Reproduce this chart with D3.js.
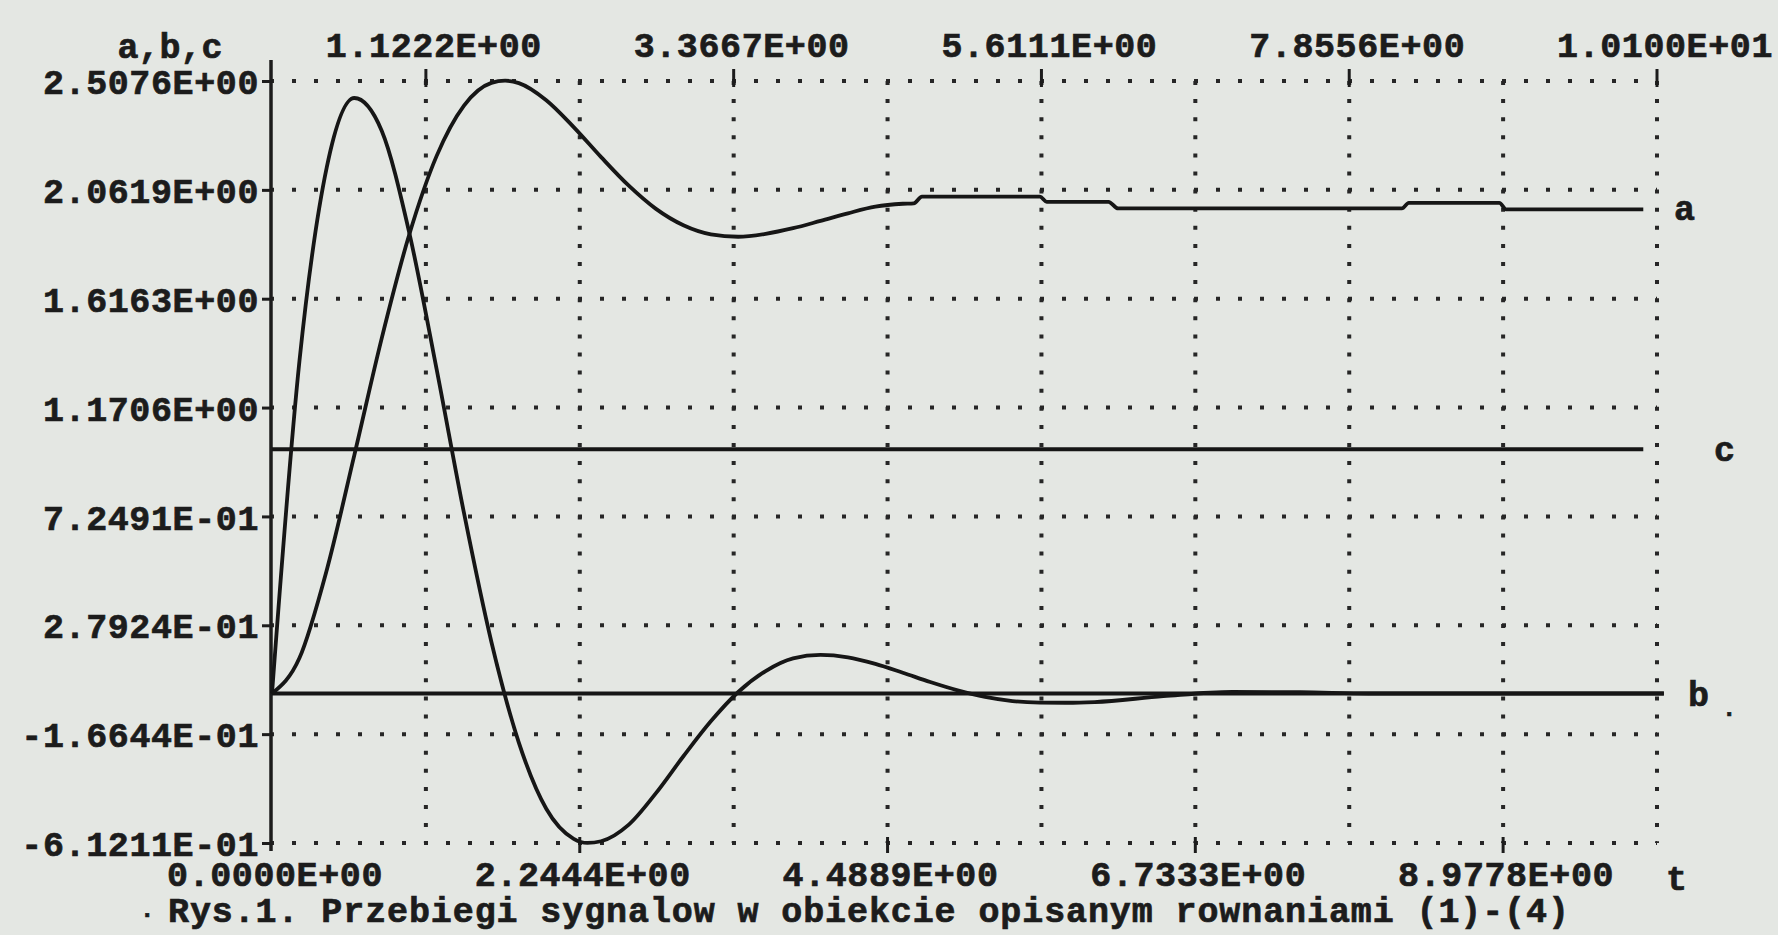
<!DOCTYPE html>
<html>
<head>
<meta charset="utf-8">
<script src="https://cdn.jsdelivr.net/npm/d3@7"></script>
<style>
  html, body { margin: 0; padding: 0; background: #e4e7e3; overflow: hidden; }
  svg { display: block; }
  text { font-family: "Liberation Mono", "DejaVu Sans Mono", monospace; font-weight: bold; fill: #1c1c1c; stroke: #1c1c1c; stroke-width: 0.7px; }
</style>
</head>
<body>
<svg id="chart"></svg>
<script>
// time ticks, alternately labelled at top / bottom
const xTicks = [0, 1.1222, 2.2444, 3.3667, 4.4889, 5.6111, 6.7333, 7.8556, 8.9778, 10.1];
const xLabels = ["0.0000E+00", "1.1222E+00", "2.2444E+00", "3.3667E+00", "4.4889E+00",
                 "5.6111E+00", "6.7333E+00", "7.8556E+00", "8.9778E+00", "1.0100E+01"];
const yTicks = [2.5076, 2.0619, 1.6163, 1.1706, 0.72491, 0.27924, -0.16644, -0.61211];
const yLabels = ["2.5076E+00", "2.0619E+00", "1.6163E+00", "1.1706E+00",
                 "7.2491E-01", "2.7924E-01", "-1.6644E-01", "-6.1211E-01"];

// series a
const tA = [0, 0.2, 0.4, 0.6, 0.8, 1.0, 1.2, 1.4, 1.6, 1.7, 1.8, 2.0, 2.2, 2.4, 2.6,
            2.8, 3.0, 3.2, 3.4, 3.6, 3.8, 4.0, 4.2, 4.4, 4.6, 4.68, 4.74, 5.2, 5.6, 5.65,
            6.1, 6.17, 7.0, 8.0, 8.24, 8.29, 8.95, 9.0, 10.0];
const aVals = [0, 0.145, 0.507, 0.975, 1.454, 1.877, 2.200, 2.407, 2.500, 2.509, 2.499, 2.429, 2.319, 2.196, 2.080,
               1.984, 1.917, 1.880, 1.870, 1.882, 1.905, 1.935, 1.966, 1.993, 2.005, 2.007, 2.034, 2.034, 2.034, 2.013,
               2.013, 1.986, 1.986, 1.986, 1.986, 2.009, 2.009, 1.982, 1.982];

// series b
const tB = [0, 0.2, 0.4, 0.6, 0.8, 1.0, 1.2, 1.4, 1.6, 1.8, 2.0, 2.2, 2.3, 2.4, 2.6,
            2.8, 3.0, 3.2, 3.4, 3.6, 3.8, 4.0, 4.2, 4.4, 4.6, 4.8, 5.0, 5.2, 5.4, 5.6,
            5.8, 6.0, 6.5, 7.0, 7.5, 8.0, 10.15];
const bVals = [0, 1.360, 2.156, 2.438, 2.304, 1.889, 1.329, 0.739, 0.211, -0.201, -0.472, -0.595, -0.612, -0.605, -0.538,
               -0.408, -0.257, -0.114, 0.006, 0.092, 0.144, 0.158, 0.148, 0.121, 0.085, 0.047, 0.013, -0.014, -0.031, -0.037,
               -0.038, -0.035, -0.011, 0.006, 0.005, 0, 0];

// series c (input step) and the zero reference line
const tC = [0, 10.0];
const cVals = [1, 1];
const tZero = [0, 10.15];
const zeroVals = [0, 0];

const width = 1778;
const height = 935;
const ink = "#1c1c1c";

const svg = d3.select("#chart")
	.attr("width", width)
	.attr("height", height);

svg.append("rect")
	.attr("width", width)
	.attr("height", height)
	.attr("fill", "#e4e7e3");

const x = d3.scaleLinear().domain([0, 10.1]).range([272, 1657]);
const y = d3.scaleLinear().domain([-0.61211, 2.5076]).range([843, 81]);

// dotted grid
const grid = svg.append("g").attr("stroke", "#262626").attr("stroke-width", 4);

grid.selectAll(".hgrid")
	.data(yTicks)
	.join("line")
	.attr("class", "hgrid")
	.attr("x1", x(0)).attr("x2", x(10.1))
	.attr("y1", d => y(d)).attr("y2", d => y(d))
	.attr("stroke-dasharray", "4,18")
	.attr("stroke-dashoffset", -20);

grid.selectAll(".vgrid")
	.data(xTicks.slice(1))
	.join("line")
	.attr("class", "vgrid")
	.attr("x1", d => x(d)).attr("x2", d => x(d))
	.attr("y1", y(2.5076)).attr("y2", y(-0.61211))
	.attr("stroke-dasharray", "4,14.1");

// small ticks where the labels are
const ticks = svg.append("g").attr("stroke", ink).attr("stroke-width", 3);
ticks.selectAll(".ttop")
	.data(xTicks.filter((d, i) => i % 2 === 1))
	.join("line")
	.attr("x1", d => x(d)).attr("x2", d => x(d))
	.attr("y1", y(2.5076) - 12).attr("y2", y(2.5076) + 6);
ticks.selectAll(".tbot")
	.data(xTicks.filter((d, i) => i % 2 === 0 && i > 0))
	.join("line")
	.attr("x1", d => x(d)).attr("x2", d => x(d))
	.attr("y1", y(-0.61211) - 6).attr("y2", y(-0.61211) + 10);

// y axis with labels
const yAxis = d3.axisLeft(y)
	.tickValues(yTicks)
	.tickFormat((d, i) => yLabels[i])
	.tickSize(9)
	.tickPadding(3);

const yg = svg.append("g")
	.attr("transform", `translate(${x(0) - 1},0)`)
	.call(yAxis);
yg.select(".domain").remove();
yg.selectAll(".tick line").attr("stroke", ink).attr("stroke-width", 3);
yg.selectAll(".tick text")
	.attr("font-size", 35)
	.attr("letter-spacing", 0.6)
	.attr("fill", ink)
	.attr("dy", "0.36em");

svg.append("line")
	.attr("x1", x(0) - 1).attr("x2", x(0) - 1)
	.attr("y1", y(2.5076) - 21).attr("y2", y(-0.61211) + 8)
	.attr("stroke", ink)
	.attr("stroke-width", 3.5);

// x labels: odd on top, even at bottom
svg.selectAll(".xtop")
	.data(xTicks.map((d, i) => [d, xLabels[i], i]).filter(d => d[2] % 2 === 1))
	.join("text")
	.attr("x", d => x(d[0]) + 8)
	.attr("y", 57)
	.attr("text-anchor", "middle")
	.attr("font-size", 35)
	.attr("letter-spacing", 0.6)
	.text(d => d[1]);

svg.selectAll(".xbot")
	.data(xTicks.map((d, i) => [d, xLabels[i], i]).filter(d => d[2] % 2 === 0))
	.join("text")
	.attr("x", d => x(d[0]) + 3)
	.attr("y", 886)
	.attr("text-anchor", "middle")
	.attr("font-size", 35)
	.attr("letter-spacing", 0.6)
	.text(d => d[1]);

// curves
const line = d3.line()
	.x(d => x(d[0]))
	.y(d => y(d[1]))
	.curve(d3.curveMonotoneX);

const series = [
	d3.zip(tZero, zeroVals),
	d3.zip(tC, cVals),
	d3.zip(tB, bVals),
	d3.zip(tA, aVals)
];

svg.append("g")
	.selectAll("path")
	.data(series)
	.join("path")
	.attr("d", line)
	.attr("fill", "none")
	.attr("stroke", "#161616")
	.attr("stroke-width", 3.8)
	.attr("stroke-linejoin", "round");

// names
const names = svg.append("g").attr("font-size", 35);
names.append("text").attr("x", 170).attr("y", 58).attr("text-anchor", "middle").text("a,b,c");
names.append("text").attr("x", 1674).attr("y", 220).text("a");
names.append("text").attr("x", 1714).attr("y", 461).text("c");
names.append("text").attr("x", 1688).attr("y", 706).text("b");
names.append("text").attr("x", 1722).attr("y", 716).attr("font-size", 24).text(".");
names.append("text").attr("x", 1666).attr("y", 890).text("t");

svg.append("text")
	.attr("x", 140)
	.attr("y", 917)
	.attr("font-size", 24)
	.text(".");
svg.append("text")
	.attr("x", 168)
	.attr("y", 922)
	.attr("font-size", 35)
	.attr("letter-spacing", 0.9)
	.text("Rys.1. Przebiegi sygnalow w obiekcie opisanym rownaniami (1)-(4)");
</script>
</body>
</html>
